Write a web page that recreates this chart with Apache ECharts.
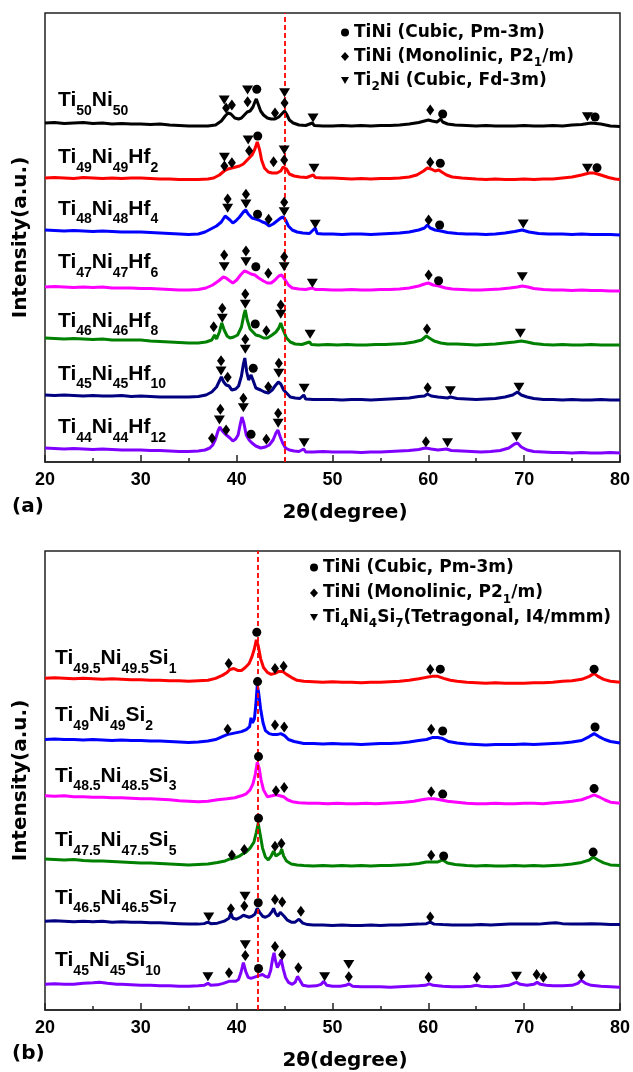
<!DOCTYPE html>
<html><head><meta charset="utf-8">
<script src="https://cdn.jsdelivr.net/npm/echarts@6/dist/echarts.min.js"></script>
<style>html,body{margin:0;padding:0;background:#fff}#c{width:633px;height:1072px}</style>
</head><body><div id="c"></div>
<script>
// ---------- shared ----------
const xTicks = [20, 30, 40, 50, 60, 70, 80];

// ---------- panel (a): Hf series ----------
const namesA = [['Ti','50','Ni','50'],['Ti','49','Ni','49','Hf','2'],['Ti','48','Ni','48','Hf','4'],['Ti','47','Ni','47','Hf','6'],['Ti','46','Ni','46','Hf','8'],['Ti','45','Ni','45','Hf','10'],['Ti','44','Ni','44','Hf','12']];
const colorsA = ['#000000','#ff0000','#0000ff','#ff00ff','#008000','#000080','#8000ff'];
const offsetsA = [335, 282, 227, 171, 117, 62, 9];
const labelYA = [361.5, 304.5, 253, 199.5, 141, 88, 34.5];
const labelXA = 21.35;
const refLineA = 45.03;

const ti50ni50 = [[20,4],[21,4.5],[22,3.5],[23,4],[24,4.5],[25,3.5],[26,4],[27,3],[28,3.5],[29,3],[30,3],[31,2.5],[32,3],[33,2],[34,1.5],[35,1],[36,1],[37,1],[37.8,2],[38.4,6],[38.8,11],[39.1,14],[39.4,13],[39.8,9],[40.2,8],[40.5,9],[40.8,12],[41.1,15],[41.4,16],[41.7,20],[41.9,25],[42.05,28],[42.2,24],[42.5,16],[42.8,12],[43.2,9],[43.6,8],[44.0,8],[44.4,10],[44.7,13],[45.0,16],[45.2,13],[45.5,7],[45.9,4],[46.5,2],[47.2,1.5],[47.9,4],[48.1,1.5],[49,1],[50,1],[51,1.5],[52,1],[53,1.5],[54,1],[55,1.5],[56,1.5],[57,2],[58,3],[59,4.5],[59.6,6],[60.0,7],[60.4,6],[60.9,5],[61.3,8],[61.5,5],[62,3],[62.8,2],[64,1.5],[65,1],[66,1.5],[67,1],[68,1],[69,1],[70,1.5],[71,1],[72,1],[73,1.5],[74,1],[75,2],[76,2.5],[77,4],[78,3],[79,1],[80,0.5]];
const hf2 = [[20,2],[21,2.5],[22,2],[23,1.5],[24,2.5],[25,2],[26,1.5],[27,2],[28,1.5],[29,2],[30,2],[31,1.5],[32,1],[33,1],[34,0.5],[35,0.5],[36,0.5],[37,1],[37.6,2],[38.2,5],[38.7,9],[39.1,11],[39.5,12],[39.9,13],[40.3,14],[40.7,16],[41.0,19],[41.3,22],[41.6,25],[41.9,31],[42.15,38],[42.4,30],[42.6,20],[42.9,12],[43.3,8],[43.7,7],[44.2,7],[44.6,9],[44.85,13],[45.0,15],[45.2,11],[45.5,6],[46,4],[46.6,3],[47.3,2.5],[48.0,5],[48.2,2.5],[49,2],[50,2],[51,1.5],[52,1],[53,1.5],[54,1],[55,1.5],[56,1.5],[57,2],[58,3],[58.8,5],[59.5,9],[59.9,12],[60.3,11],[60.7,9],[61.1,10],[61.4,8],[61.9,5],[62.5,3],[63.5,2],[65,1],[66,0.5],[67,1],[68,0.5],[69,0.5],[70,1],[71,0.5],[72,1],[73,1],[74,2],[75,3],[76,5],[76.8,7],[77.3,7],[78,5],[78.8,2.5],[79.5,1],[80,0.5]];
const hf4 = [[20,5],[21,4.5],[22,4],[23,4.5],[24,4],[25,3.5],[26,4],[27,3.5],[28,3],[29,3],[30,3],[31,2.5],[32,2],[33,1.5],[34,1],[35,0.5],[36,1],[36.7,3],[37.3,6],[37.9,9],[38.4,13],[38.8,19],[39.0,20],[39.3,15],[39.6,12],[39.9,14],[40.3,18],[40.7,23],[40.95,25],[41.2,21],[41.6,17],[42.0,16],[42.3,15],[42.7,13],[43.0,12],[43.4,9],[43.8,11],[44.2,14],[44.6,17],[44.85,18],[45.1,15],[45.4,9],[45.8,5],[46.3,3],[46.9,2],[47.6,1.5],[48.2,7],[48.4,1.5],[49,1],[50,1],[51,0.5],[52,1],[53,1],[54,0.5],[55,1],[56,1.5],[57,2],[58,3],[59,5],[59.6,7],[59.9,10],[60.2,7],[60.7,5],[61.3,4],[62,2.5],[63,1.5],[64,1],[65,1],[66,0.5],[67,1],[68,2],[69,3.5],[69.8,5],[70.5,3],[71.5,1.5],[72.5,1],[74,1],[75,0.5],[76,1],[77,0.5],[78,0.5],[79,0.5],[80,0]];
const hf6 = [[20,4],[21,4.5],[22,4],[23,3.5],[24,4],[25,3.5],[26,4],[27,3],[28,3],[29,3],[30,2.5],[31,2.5],[32,2],[33,1.5],[34,1],[35,1],[36,1.5],[36.8,3],[37.5,6],[38.1,10],[38.6,14],[38.9,13],[39.3,10],[39.6,8],[40.0,11],[40.4,16],[40.8,20],[41.1,19],[41.5,17],[41.9,16],[42.3,13],[42.8,10],[43.2,8],[43.6,8],[44.0,11],[44.4,15],[44.7,16],[45.0,12],[45.4,6],[45.8,3],[46.5,2],[47.2,1.5],[47.9,3],[48.2,1.5],[49,1.5],[50,1],[51,1],[52,1.5],[53,1],[54,1],[55,1.5],[56,1.5],[57,2],[58,3],[59,5],[59.6,7],[60.0,8],[60.5,6],[61.1,5],[61.8,3],[62.5,2],[63.5,1.5],[64.5,1],[65.5,1],[66.5,1.5],[67.5,2],[68.5,3],[69.3,4],[69.8,5],[70.4,4],[71,2.5],[72,1.5],[73,1],[74,1],[75,0.5],[76,1],[77,0.5],[78,0.5],[79,0],[80,0]];
const hf8 = [[20,7],[21,6.5],[22,6],[23,6.5],[24,6],[25,5.5],[26,6],[27,5],[28,5],[29,5],[30,5],[31,4],[32,3.5],[33,3],[34,2.5],[35,2],[36,2],[36.8,3],[37.4,5],[37.7,10],[37.9,6],[38.2,13],[38.45,22],[38.7,15],[39.0,9],[39.3,7],[39.7,8],[40.1,10],[40.5,18],[40.75,30],[40.9,35],[41.1,25],[41.4,16],[41.7,13],[42.0,10],[42.4,9],[42.8,7],[43.2,7],[43.7,10],[44.1,13],[44.4,17],[44.6,22],[44.85,15],[45.2,7],[45.6,3],[46.1,1],[46.8,0.5],[47.6,3],[47.8,0.5],[48.5,0],[49.5,0.5],[50.5,0],[51.5,0.5],[52.5,0],[53.5,0],[54.5,0.5],[55.5,0.5],[56.5,1],[57.5,1.5],[58.5,3],[59.3,5],[59.8,9],[60.1,7],[60.6,4],[61.3,2],[62,1],[63,1],[64,0.5],[65,0],[66,0.5],[67,1],[68,2],[69,3],[69.7,4],[70.3,3],[71,1.5],[72,0.5],[73,0],[74,0.5],[75,0],[76,0],[77,0.5],[78,0],[79,0],[80,0]];
const hf10 = [[20,5],[21,4.5],[22,5],[23,4.5],[24,4],[25,4.5],[26,4],[27,4],[28,4.5],[29,3.5],[30,4],[31,3.5],[32,3],[33,3],[34,3],[35,3],[36,3.5],[36.8,5],[37.4,8],[37.9,13],[38.2,19],[38.4,23],[38.65,18],[38.9,15],[39.2,14],[39.5,10],[39.9,11],[40.2,14],[40.5,24],[40.7,36],[40.85,42],[41.05,28],[41.25,20],[41.5,25],[41.7,20],[42.0,12],[42.5,10],[42.9,8],[43.3,7],[43.7,10],[44.0,14],[44.35,18],[44.6,16],[44.9,10],[45.2,7],[45.6,3],[46.1,2],[46.6,1.5],[47.0,5],[47.2,1],[48,0.5],[49,0.5],[50,0.5],[51,0],[52,0.5],[53,0.5],[54,0],[55,0.5],[56,1],[57,1.5],[58,2],[59,3.5],[59.6,4],[59.9,6],[60.3,4],[61,3],[62,2],[62.3,3],[63,1.5],[64,1],[65,0.5],[66,1],[67,1.5],[68,3],[68.8,5],[69.3,8],[69.7,5],[70.3,3],[71,1.5],[72,0.5],[73,0.5],[74,0],[75,0.5],[76,0],[77,0],[78,0.5],[79,0],[80,0]];
const hf12 = [[20,5],[21,4.5],[22,4],[23,4.5],[24,4],[25,3.5],[26,4],[27,3.5],[28,3],[29,3],[30,3],[31,2.5],[32,2.5],[33,2],[34,1.5],[35,1.5],[36,2],[36.7,3],[37.2,5],[37.5,8],[37.8,14],[38.05,22],[38.25,26],[38.5,22],[38.8,19],[39.0,20],[39.3,15],[39.6,12],[39.9,14],[40.15,18],[40.4,30],[40.55,36],[40.75,30],[41.0,18],[41.3,13],[41.6,10],[42.0,7],[42.5,5],[43.0,6],[43.4,8],[43.8,13],[44.1,20],[44.3,23],[44.55,16],[44.8,10],[45.1,5],[45.5,3],[46,2],[46.5,1.5],[47.0,4],[47.2,1],[48,1],[49,1.5],[50,1],[51,1],[52,1],[53,0.5],[54,1],[55,1],[56,1.5],[57,2],[58,2.5],[59,3.5],[59.7,5],[60.3,4],[61,3],[61.9,4],[62.4,2.5],[63.5,2],[64.5,1.5],[65.5,1],[66.5,1.5],[67.5,2.5],[68.4,5],[69.0,9],[69.3,10],[69.7,6],[70.3,3],[71,1.5],[72,1],[73,0.5],[74,0.5],[75,0],[76,0.5],[77,0],[78,0],[79,0.5],[80,0]];
const curvesA = [ti50ni50, hf2, hf4, hf6, hf8, hf10, hf12];

// phase markers, panel (a)
const cubicA = [[42.1,372.7],[61.5,348],[77.4,345],[42.2,326],[61.25,298.7],[77.6,294.3],[42.18,247.7],[61.18,237],[42.0,195.3],[61.07,181.3],[41.94,138],[41.73,93.7],[41.5,27.7]];
const monoA = [[38.9,354],[39.5,357],[41.14,360.3],[44.0,349],[45.0,359],[60.2,352],[38.72,296],[39.5,299.3],[41.3,311.3],[43.85,300.3],[44.96,302],[60.2,299.7],[39.06,263],[40.97,267.7],[43.33,242.7],[44.96,259.7],[60.03,242],[38.7,207],[40.97,211],[43.3,188.7],[44.96,205.3],[60.03,187],[37.6,135.3],[38.5,153.7],[40.9,168],[43.1,131.3],[44.6,157],[59.86,133],[38.37,101.3],[39.06,84.7],[40.9,122.7],[43.3,75.3],[44.4,98.7],[59.93,74.3],[37.43,23.7],[38.3,52.7],[38.9,32],[40.7,63.7],[43.1,22.7],[44.33,48.7],[59.75,20.3]];
const ti2niA = [[38.7,362],[41.14,372],[45.0,369.3],[47.97,344],[76.6,345.3],[38.72,304.7],[41.2,322],[44.96,312],[48.07,293.7],[76.6,293.7],[39.06,253.7],[40.97,258],[44.96,250.3],[48.2,237.7],[69.9,238],[38.7,195.3],[40.97,200.3],[44.96,195.3],[47.9,178.7],[69.8,185.3],[38.5,143.7],[40.9,157.7],[44.6,147.7],[47.66,127.7],[69.6,128.7],[38.37,91],[40.9,112.7],[44.4,88.7],[47.04,73.7],[62.3,71.3],[69.46,74.7],[38.2,42],[40.7,54.3],[44.33,38.7],[47.04,19.3],[62.0,19.3],[69.2,25.3]];

// ---------- panel (b): Si series ----------
const namesB = [['Ti','49.5','Ni','49.5','Si','1'],['Ti','49','Ni','49','Si','2'],['Ti','48.5','Ni','48.5','Si','3'],['Ti','47.5','Ni','47.5','Si','5'],['Ti','46.5','Ni','46.5','Si','7'],['Ti','45','Ni','45','Si','10']];
const colorsB = ['#ff0000','#0000ff','#ff00ff','#008000','#000080','#8000ff'];
const offsetsB = [331, 269, 209, 146, 85, 22];
const labelYB = [356.3, 298.5, 237, 172, 113.5, 50.2];
const labelXB = 21.05;
const refLineB = 42.2;

const si1 = [[20,5],[21,5.5],[22,5],[23,4.5],[24,5],[25,4.5],[26,4],[27,4.5],[28,4],[29,3.5],[30,3.5],[31,3],[32,3],[33,2.5],[34,2.5],[35,2],[36,2.5],[37,3],[37.8,5],[38.5,8],[39.0,11],[39.3,14],[39.7,15],[40.1,13],[40.5,13],[40.9,16],[41.3,20],[41.6,27],[41.85,35],[42.05,44],[42.25,38],[42.5,25],[42.8,16],[43.2,11],[43.6,9],[44.0,10],[44.4,12],[44.8,12],[45.2,9],[45.7,6],[46.3,3],[47,2],[48,1.5],[49,1],[50,1.5],[51,1],[52,1],[53,0.5],[54,1],[55,1],[56,1.5],[57,2],[58,3],[59,4.5],[59.8,6],[60.4,7],[61.0,7],[61.6,5],[62.3,3],[63,2],[64,1],[65,0.5],[66,0],[67,0.5],[68,0],[69,0],[70,0],[71,0.5],[72,0.5],[73,1],[74,2],[75,2.5],[76,4],[76.8,7],[77.3,10],[77.7,7],[78.3,4],[79,2],[80,1]];
const si2 = [[20,5],[21,5.5],[22,5],[23,5],[24,4.5],[25,5],[26,4.5],[27,4],[28,4.5],[29,4],[30,4],[31,3.5],[32,3.5],[33,3],[34,2.5],[35,2],[36,2.5],[37,3.5],[37.8,5],[38.5,8],[39.0,10],[39.5,11],[40.0,12],[40.5,13],[41.0,15],[41.35,18],[41.5,27],[41.65,22],[41.85,26],[42.0,40],[42.15,60],[42.3,52],[42.5,36],[42.75,22],[43.0,14],[43.4,11],[43.8,10],[44.2,10],[44.6,11],[45.0,9],[45.4,5],[46,3],[47,1],[48,1],[49,0.5],[50,1],[51,0.5],[52,0.5],[53,0],[54,0.5],[55,1],[56,1],[57,1.5],[58,2.5],[59,4],[59.8,5],[60.4,7],[61.0,7],[61.5,6],[62.1,3],[63,1.5],[64,0.5],[65,0],[66,-0.5],[67,0],[68,0],[69,0],[70,0.5],[71,0],[72,0.5],[73,1],[74,1.5],[75,2.5],[76,4],[76.8,8],[77.3,11],[77.8,8],[78.4,5],[79,3],[80,1.5]];
const si3 = [[20,8],[21,7.5],[22,8],[23,7],[24,7],[25,6.5],[26,6.5],[27,6],[28,6],[29,5.5],[30,5],[31,5],[32,4.5],[33,4],[34,3],[35,2.5],[36,2],[37,2.5],[38,4],[39,5],[39.8,6],[40.5,8],[41.0,10],[41.4,14],[41.7,20],[41.95,30],[42.15,42],[42.35,36],[42.55,24],[42.8,14],[43.2,7],[43.7,8],[44.1,9],[44.5,8],[44.9,7],[45.3,4],[45.8,2],[46.5,1],[47.5,0.5],[48.5,0.5],[49.5,0],[50.5,0.5],[51.5,0],[52.5,0],[53.5,0.5],[54.5,0],[55.5,0.5],[56.5,1],[57.5,1.5],[58.5,2.5],[59.3,4],[60.0,5],[60.6,5],[61.2,4],[62,2.5],[63,1.5],[64,0.5],[65,0],[66,0],[67,0.5],[68,0],[69,0],[70,0.5],[71,0.5],[72,0],[73,1],[74,1.5],[75,2.5],[76,4],[76.8,7],[77.3,9],[77.8,7],[78.4,4],[79,1.5],[80,0.5]];
const si5 = [[20,7],[21,6.5],[22,6],[23,6.5],[24,5.5],[25,5],[26,5],[27,4.5],[28,4],[29,3.5],[30,3],[31,3],[32,2.5],[33,2],[34,1.5],[35,1],[36,1.5],[37,2],[38,3.5],[38.8,5],[39.3,7],[39.8,8],[40.3,10],[40.6,12],[41.0,14],[41.4,18],[41.8,24],[42.05,34],[42.25,43],[42.45,32],[42.7,18],[43.0,9],[43.3,6],[43.6,10],[43.85,15],[44.1,10],[44.3,9],[44.55,13],[44.7,17],[44.9,10],[45.2,5],[45.7,2],[46.3,1],[47,0.5],[48,0],[49,0.5],[50,0],[51,0.5],[52,0],[53,0.5],[54,0],[55,0.5],[56,0.5],[57,1],[58,1.5],[59,2.5],[59.8,4],[60.4,4],[61.0,4],[61.5,6],[62,3],[62.8,1.5],[64,0.5],[65,0],[66,0.5],[67,0],[68,0],[69,0.5],[70,0],[71,0.5],[72,0],[73,0.5],[74,1],[75,2],[76,3.5],[76.8,6],[77.2,9],[77.7,6],[78.3,3],[79,1],[80,0.5]];
const si7 = [[20,5],[21,5.5],[22,5],[23,4.5],[24,5],[25,4.5],[26,5],[27,4],[28,4.5],[29,4],[30,4],[31,3.5],[32,3.5],[33,3],[34,2.5],[35,2],[36,2],[36.6,2.5],[37.0,4],[37.3,2.5],[38,3],[38.7,5],[39.2,8],[39.4,13],[39.6,8],[40.0,7],[40.4,9],[40.7,11],[41.0,10],[41.3,9],[41.6,10],[41.9,12],[42.15,18],[42.4,14],[42.7,10],[43.0,9],[43.4,11],[43.7,15],[43.85,18],[44.05,13],[44.3,10],[44.55,14],[44.7,16],[44.95,10],[45.3,6],[45.7,4],[46.1,4],[46.5,7],[46.65,8],[46.9,3],[47.4,1.5],[48,1],[49,1],[50,0.5],[51,1],[52,0.5],[53,0.5],[54,1],[55,0.5],[56,1],[57,1],[58,1.5],[59,2],[59.8,2.5],[60.2,4],[60.6,2],[61.5,1.5],[62.5,1],[63.5,1],[64.5,1],[65.5,1.5],[66.5,1],[67.5,1.5],[68.5,2],[69.5,2],[70.5,2],[71.5,2],[72.5,3],[73.3,3.5],[74,2.5],[75,2],[76,2],[77,2.5],[78,2],[79,1.5],[80,1.5]];
const si10 = [[20,4],[21,4.5],[22,4],[23,4],[24,5],[25,5.5],[25.7,6],[26.5,5],[27.5,4],[28,4],[29,3.5],[30,3],[31,3],[32,2.5],[33,2.5],[34,2],[35,2],[36,2.5],[36.6,3],[37.0,5],[37.3,3],[38,3.5],[38.6,5],[39.2,7],[39.6,7],[39.9,7],[40.2,9],[40.45,16],[40.7,26],[40.95,17],[41.2,11],[41.5,10],[41.8,11],[42.1,12],[42.4,13],[42.7,14],[43.0,12],[43.3,11],[43.55,18],[43.75,30],[43.9,36],[44.05,28],[44.25,21],[44.45,25],[44.65,29],[44.85,20],[45.1,11],[45.4,6],[45.8,4],[46.1,6],[46.35,12],[46.55,9],[46.9,3],[47.5,2],[48.3,2.5],[48.8,4],[49.1,7],[49.4,3],[50,2],[50.8,2],[51.4,3],[51.7,4.5],[52.1,2],[53,1.5],[54,1.5],[55,1.5],[56,1],[57,1.5],[58,2],[59,2.5],[59.7,3],[60.1,4.5],[60.5,3],[61.5,2],[62.5,1.5],[63.5,1.5],[64.5,2],[65.0,3],[65.5,2],[66.5,1.5],[67.5,2],[68.4,3],[68.9,5],[69.2,6],[69.6,4],[70.3,3],[71.0,4],[71.35,6],[71.7,4],[72.3,3],[73,2.5],[74,2.5],[75,3],[75.6,5],[75.95,8],[76.4,5],[77,3],[78,2],[79,1.5],[80,1]];
const curvesB = [si1, si2, si3, si5, si7, si10];

const cubicB = [[42.1,382.7],[61.25,345.3],[77.3,345.3],[42.18,332.7],[61.5,282.7],[77.4,286.7],[42.28,256.7],[61.5,218.7],[77.3,224.3],[42.28,194.3],[61.6,156],[77.2,160],[42.25,108.7],[42.28,42]];
const monoB = [[39.17,351],[44.0,346],[44.9,348.3],[60.2,345],[39.06,284.3],[44.0,288.7],[44.96,286.7],[60.3,284.3],[44.1,222],[44.96,225.3],[60.3,221],[39.5,157],[40.8,162.7],[44.0,166],[44.67,168.7],[60.3,156.7],[39.4,102.7],[40.8,105.3],[44.0,112],[44.75,109.3],[46.7,100],[60.2,94.3],[39.2,37.7],[40.9,55.3],[44.0,64.3],[44.75,56],[46.44,42.7],[51.7,33.7],[60.03,33.3],[65.06,33.3],[71.3,36],[72.0,33.3],[75.97,35.3]];
const ti4ni4si7B = [[37.09,94.3],[40.87,115.3],[37.0,33.7],[40.9,66],[49.18,33.7],[51.7,46],[69.2,34.3]];

// legend texts (main / subscript alternating)
const phaseCubic = ['TiNi (Cubic, Pm-3m)'];
const phaseMono = ['TiNi (Monolinic, P2','1','/m)'];
const phaseTi2Ni = ['Ti','2','Ni (Cubic, Fd-3m)'];
const phaseTi4Ni4Si7 = ['Ti','4','Ni','4','Si','7','(Tetragonal, I4/mmm)'];

// ---------- build ----------
const FONT = 'Liberation Sans, Arial, sans-serif';
const FONT2 = 'DejaVu Sans, sans-serif';
const rich = parts => parts.map((p,k)=>'{'+(k%2?'s':'m')+'|'+p+'}').join('');
const join = parts => parts.join('');
const richMap = {};
[phaseCubic, phaseMono, phaseTi2Ni, phaseTi4Ni4Si7].forEach(p => { richMap[join(p)] = rich(p); });

const grids = [
  {left:45, right:11, top:13, height:449, show:true, borderColor:'#222', borderWidth:1.5},
  {left:45, right:11, top:551, height:465, show:true, borderColor:'#222', borderWidth:1.5}
];
const ymax = [449, 465];

function xAxisFor(i){
  return {type:'value', gridIndex:i, min:20, max:80, interval:10,
    axisLine:{show:true, lineStyle:{color:'#222', width:1.5}},
    axisTick:{show:true, inside:true, length:7, lineStyle:{color:'#222', width:1.5}},
    minorTick:{show:true, splitNumber:2, length:4, lineStyle:{color:'#222', width:1.5}},
    splitLine:{show:false},
    axisLabel:{show:true, margin:9, color:'#000', fontFamily:FONT, fontWeight:'bold', fontSize:18,
      formatter: v => xTicks.includes(v) ? String(v) : ''},
    name:'2θ(degree)', nameLocation:'middle', nameGap:41,
    nameTextStyle:{color:'#000', fontFamily:FONT2, fontWeight:'bold', fontSize:20, padding:[0,0,0,25]}
  };
}
function yAxisFor(i){
  return {type:'value', gridIndex:i, min:0, max:ymax[i],
    axisLine:{show:false}, axisTick:{show:false}, axisLabel:{show:false}, splitLine:{show:false},
    name:'Intensity(a.u.)', nameLocation:'middle', nameGap:14, nameRotate:90,
    nameTextStyle:{color:'#000', fontFamily:FONT2, fontWeight:'bold', fontSize:20}
  };
}

const sampleRich = {
  m:{fontFamily:FONT, fontWeight:'bold', fontSize:21, color:'#000', lineHeight:24},
  s:{fontFamily:FONT, fontWeight:'bold', fontSize:14, color:'#000', lineHeight:24, padding:[21,0,0,0]}
};
const legendRich = {
  m:{fontFamily:FONT2, fontWeight:'bold', fontSize:17, color:'#000', lineHeight:20},
  s:{fontFamily:FONT2, fontWeight:'bold', fontSize:12, color:'#000', lineHeight:20, padding:[13,0,0,0]}
};
const triDown = 'path://M0,0L10,0L5,9Z';

const series = [];
function addPanel(i, curves, offsets, colors, names, labelX, labelY, refX, cubic, mono, third, thirdName){
  curves.forEach((c, k) => {
    series.push({type:'line', xAxisIndex:i, yAxisIndex:i, showSymbol:false, silent:true, z:2,
      data: c.map(p => [p[0], offsets[k] + p[1]]),
      lineStyle:{color:colors[k], width:3}, itemStyle:{color:colors[k]}});
  });
  series.push({type:'line', xAxisIndex:i, yAxisIndex:i, data:[], silent:true, z:3,
    markLine:{silent:true, symbol:'none', label:{show:false}, animation:false,
      lineStyle:{color:'#ff0000', type:[5,3], width:1.8}, data:[{xAxis:refX}]}});
  const mk = {color:'#000', opacity:1};
  series.push({name:join(phaseCubic), type:'scatter', xAxisIndex:i, yAxisIndex:i, z:5, symbol:'circle', symbolSize:9, itemStyle:mk, data:cubic});
  series.push({name:join(phaseMono), type:'scatter', xAxisIndex:i, yAxisIndex:i, z:5, symbol:'diamond', symbolSize:[8,11], itemStyle:mk, data:mono});
  series.push({name:thirdName, type:'scatter', xAxisIndex:i, yAxisIndex:i, z:5, symbol:triDown, symbolSize:[11,9], itemStyle:mk, data:third});
  series.push({type:'scatter', xAxisIndex:i, yAxisIndex:i, z:6, symbolSize:0, silent:true, itemStyle:{opacity:1},
    data: names.map((n,k) => ({value:[labelX, labelY[k]], label:{formatter: rich(n)}})),
    label:{show:true, position:[0,0], align:'left', verticalAlign:'middle', color:'#000', opacity:1, rich:sampleRich}});
}
addPanel(0, curvesA, offsetsA, colorsA, namesA, labelXA, labelYA, refLineA, cubicA, monoA, ti2niA, join(phaseTi2Ni));
addPanel(1, curvesB, offsetsB, colorsB, namesB, labelXB, labelYB, refLineB, cubicB, monoB, ti4ni4si7B, join(phaseTi4Ni4Si7));

function legendItem(name, left, top, icon){
  return {orient:'vertical', left:left, top:top, itemWidth:8, itemHeight:9, selectedMode:false,
    data:[{name:name, icon:icon}], formatter: n => richMap[n], textStyle:{rich:legendRich}};
}

const option = {
  animation:false,
  backgroundColor:'#fff',
  grid: grids,
  xAxis:[xAxisFor(0), xAxisFor(1)],
  yAxis:[yAxisFor(0), yAxisFor(1)],
  legend:[
    legendItem(join(phaseCubic), 336, 19, 'circle'),
    legendItem(join(phaseMono), 336, 39, 'diamond'),
    legendItem(join(phaseTi2Ni), 336, 63, triDown),
    legendItem(join(phaseCubic), 305, 554, 'circle'),
    legendItem(join(phaseMono), 305, 575.5, 'diamond'),
    legendItem(join(phaseTi4Ni4Si7), 305, 600, triDown)
  ],
  graphic:[
    {type:'text', left:12, top:497, style:{text:'(a)', fill:'#000', font:'bold 20px DejaVu Sans'}},
    {type:'text', left:12, top:1044, style:{text:'(b)', fill:'#000', font:'bold 20px DejaVu Sans'}}
  ],
  series: series
};
const chart = echarts.init(document.getElementById('c'), null, {renderer:'canvas'});
chart.setOption(option);
</script></body></html>
